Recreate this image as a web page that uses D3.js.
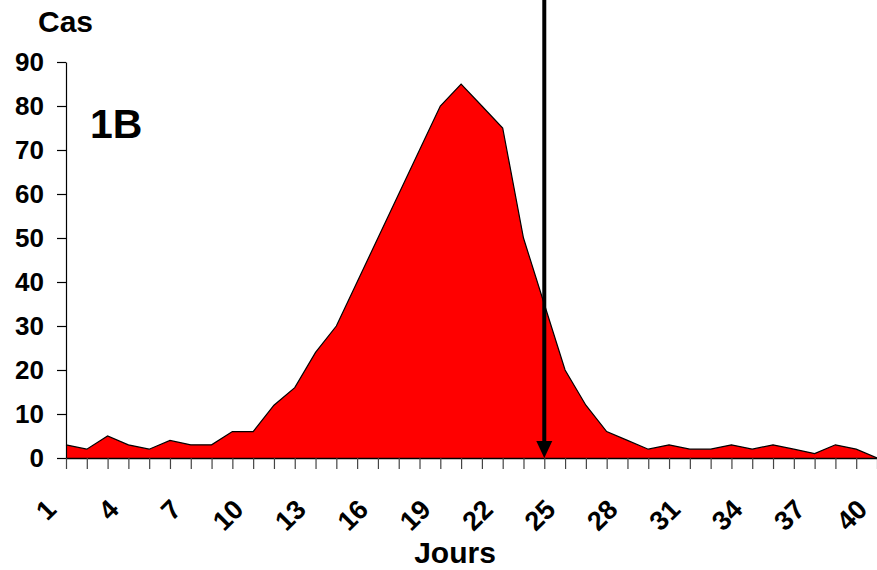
<!DOCTYPE html>
<html>
<head>
<meta charset="utf-8">
<script src="https://cdn.jsdelivr.net/npm/d3@7"></script>
<style>
  body { margin: 0; background: #fff; }
  svg text { font-family: "Liberation Sans", Arial, sans-serif; font-weight: bold; fill: #000; }
</style>
</head>
<body>
<svg id="chart" width="877" height="570"></svg>
<script>
'use strict';

// cases per day, days 1..40
var days = d3.range(1, 41);
var cases = [3, 2, 5, 3, 2, 4, 3, 3, 6, 6, 12, 16, 24, 30, 40, 50, 60, 70, 80, 85,
             80, 75, 50, 35, 20, 12, 6, 4, 2, 3, 2, 2, 3, 2, 3, 2, 1, 3, 2, 0];
var yTicks = [0, 10, 20, 30, 40, 50, 60, 70, 80, 90];
var xLabels = [1, 4, 7, 10, 13, 16, 19, 22, 25, 28, 31, 34, 37, 40];
var arrowDay = 24;

var svg = d3.select('#chart');

var x = d3.scaleLinear().domain([1, 40]).range([66, 877]);
var y = d3.scaleLinear().domain([0, 90]).range([458, 62]);

var data = days.map(function(d, i) { return { day: d, v: cases[i] }; });

// filled area
svg.append('path')
	.datum(data)
	.attr('fill', '#ff0000')
	.attr('d', d3.area()
		.x(function(d) { return x(d.day); })
		.y0(y(0))
		.y1(function(d) { return y(d.v); }));

// outline of the top edge
svg.append('path')
	.datum(data)
	.attr('fill', 'none')
	.attr('stroke', '#000')
	.attr('stroke-width', 1.2)
	.attr('d', d3.line()
		.x(function(d) { return x(d.day); })
		.y(function(d) { return y(d.v); }));

// y axis
var yAxis = svg.append('g')
	.attr('transform', 'translate(66,0)')
	.call(d3.axisLeft(y).tickValues(yTicks).tickSize(9).tickSizeOuter(0).tickPadding(13));
yAxis.select('.domain').attr('stroke', '#000').attr('stroke-width', 1.2);
yAxis.selectAll('.tick line').attr('stroke', '#000').attr('stroke-width', 1.2);
yAxis.selectAll('text')
	.style('font-family', '"Liberation Sans", Arial, sans-serif')
	.style('font-weight', 'bold')
	.style('font-size', '26px')
	.attr('fill', '#000');

// x axis: a tick every day, labels every 3 days
var xAxis = svg.append('g')
	.attr('transform', 'translate(0,458)')
	.call(d3.axisBottom(x).tickValues(days).tickSize(11).tickSizeOuter(0).tickFormat(''));
xAxis.select('.domain').attr('stroke', '#000').attr('stroke-width', 1.5);
xAxis.selectAll('.tick line').attr('stroke', '#444').attr('stroke-width', 1.2);

svg.append('g').selectAll('text')
	.data(xLabels)
	.enter().append('text')
	.attr('transform', function(d) { return 'translate(' + (x(d) - 8) + ',511) rotate(-45)'; })
	.attr('text-anchor', 'end')
	.style('font-size', '27px')
	.text(function(d) { return d; });

// arrow
var ax = x(arrowDay);
svg.append('line')
	.attr('x1', ax).attr('x2', ax)
	.attr('y1', 0).attr('y2', 443)
	.attr('stroke', '#000')
	.attr('stroke-width', 4);
svg.append('path')
	.attr('d', 'M' + (ax - 8) + ',' + 441 + 'L' + (ax + 8) + ',' + 441 + 'L' + ax + ',' + y(0) + 'Z')
	.attr('fill', '#000');

// titles
svg.append('text').attr('x', 38).attr('y', 32).style('font-size', '30px').text('Cas');
svg.append('text').attr('x', 90).attr('y', 138).style('font-size', '41px').text('1B');
svg.append('text').attr('x', 455).attr('y', 563).attr('text-anchor', 'middle').style('font-size', '30px').text('Jours');
</script>
</body>
</html>
